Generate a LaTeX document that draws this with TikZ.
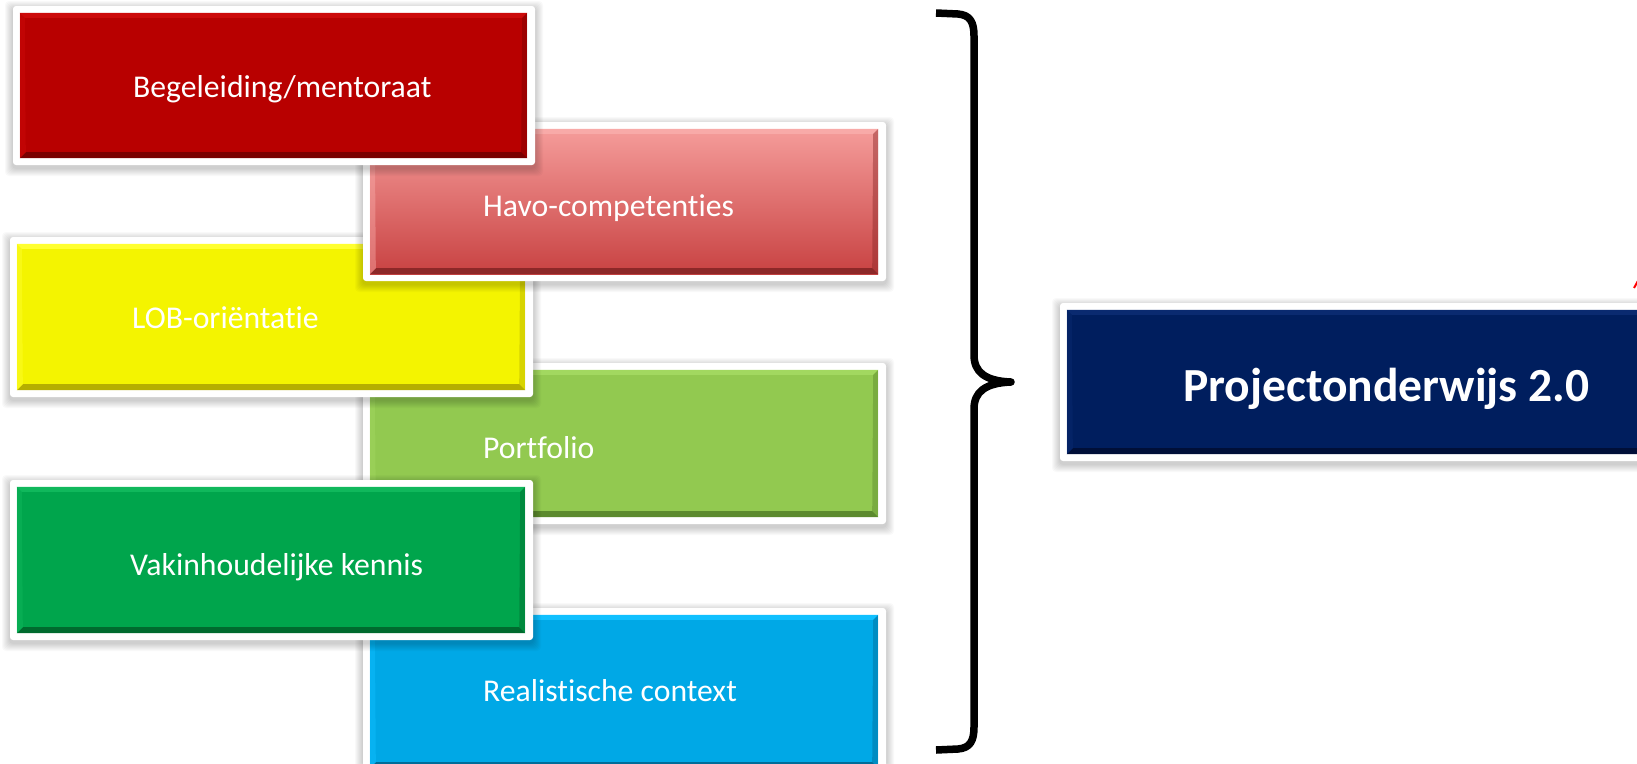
\documentclass[tikz,border=0pt]{standalone}
\usepackage{fontspec}
\setmainfont{Carlito}[Ligatures={NoCommon}]
\usetikzlibrary{fit}
\definecolor{redA}{HTML}{B80000}
\definecolor{redD}{HTML}{7A0000}
\definecolor{redL}{HTML}{CC0A0A}
\definecolor{pinkT}{HTML}{F59C9A}
\definecolor{pinkB}{HTML}{C84242}
\definecolor{pinkD}{HTML}{8C2828}
\definecolor{pinkL}{HTML}{F8AAA8}
\definecolor{yelA}{HTML}{F4F400}
\definecolor{yelD}{HTML}{B5AE00}
\definecolor{yelL}{HTML}{FFFF30}
\definecolor{lgrA}{HTML}{92C950}
\definecolor{lgrD}{HTML}{5C8A2E}
\definecolor{lgrL}{HTML}{A2D860}
\definecolor{dgrA}{HTML}{00A54C}
\definecolor{dgrD}{HTML}{006A2E}
\definecolor{dgrL}{HTML}{10B85C}
\definecolor{bluA}{HTML}{00A8E6}
\definecolor{bluD}{HTML}{006C98}
\definecolor{bluL}{HTML}{10C0FF}
\definecolor{navA}{HTML}{001E5E}
\definecolor{navD}{HTML}{000F38}
\definecolor{navL}{HTML}{0A2A70}
\newcommand{\mkbox}[8]{%
  \foreach \s in {1,...,8} {\fill[black, opacity=0.022, rounded corners=4pt] ({#2-\s},{#3-\s+3}) rectangle ({#4+\s},{#5+\s+3});}
  \node[frame, fit={(#2,#3) (#4,#5)}] (#1-frame) {};
  \node[core, #6, fit={({#2+7},{#3+7}) ({#4-8},{#5-7})}] (#1) {};
  \fill[#8] (#1.north west) -- (#1.north east) -- ([shift={(-5,5)}]#1.north east) -- ([shift={(5,5)}]#1.north west) -- cycle;
  \fill[#7] (#1.south west) -- (#1.south east) -- ([shift={(-6,-6)}]#1.south east) -- ([shift={(6,-6)}]#1.south west) -- cycle;
  \fill[#7, opacity=0.45] (#1.north east) -- (#1.south east) -- ([shift={(-6,-6)}]#1.south east) -- ([shift={(-5,5)}]#1.north east) -- cycle;
  \fill[#8, opacity=0.45] (#1.north west) -- ([shift={(5,5)}]#1.north west) -- ([shift={(6,-6)}]#1.south west) -- (#1.south west) -- cycle;
}
\begin{document}
\begin{tikzpicture}[x=1pt, y=-1pt,
  frame/.style={fill=white, draw=none, inner sep=0pt, rounded corners=3pt},
  core/.style={inner sep=0pt, draw=none},
  lbl/.style={text=white, font=\fontsize{31.7}{38}\selectfont, inner sep=0pt, anchor=base west},
  ttl/.style={text=white, font=\fontsize{47.5}{56}\selectfont\bfseries, inner sep=0pt, anchor=base west},
  bracestyle/.style={draw=black, line width=7.5pt, line join=round}]
\useasboundingbox (0,0) rectangle (1637,763);
\fill[white] (0,0) rectangle (1637,763);

% boxes, back to front
\mkbox{blu}{363}{608}{886}{775}{fill=bluA}{bluD}{bluL}
\node[lbl] (blu-t) at (483,701) {Realistische context};

\mkbox{lgr}{363}{363}{886}{524}{fill=lgrA}{lgrD}{lgrL}
\node[lbl] (lgr-t) at (483,458) {Portfolio};

\mkbox{dgr}{10}{480}{533}{640}{fill=dgrA}{dgrD}{dgrL}
\node[lbl] (dgr-t) at (130,575) {Vakinhoudelijke kennis};

\mkbox{yel}{10}{237}{533}{397}{fill=yelA}{yelD}{yelL}
\node[lbl] (yel-t) at (132,328) {LOB-oriëntatie};

\mkbox{pnk}{363}{122}{886}{281}{top color=pinkT, bottom color=pinkB}{pinkD}{pinkL}
\node[lbl] (pnk-t) at (483,216) {Havo-competenties};

\mkbox{red}{13}{6}{535}{165}{fill=redA}{redD}{redL}
\node[lbl] (red-t) at (133,97) {Begeleiding/mentoraat};

\mkbox{nav}{1060}{303}{1660}{461}{fill=navA}{navD}{navL}
\node[ttl] (nav-t) at (1183,401) {Projectonderwijs 2.0};

% brace
\coordinate (brT) at (936,13);
\coordinate (brM) at (1011,382);
\coordinate (brB) at (936,750);
\draw[bracestyle] (brT) -- (958,14) .. controls (970,15) and (974,22) .. (974,36)
  -- (974,355) .. controls (974,372) and (985,381) .. (brM)
  .. controls (985,383) and (974,392) .. (974,409)
  -- (974,727) .. controls (974,741) and (970,748) .. (958,749) -- (brB);

% small red mark at right edge
\coordinate (rmA) at (1634,288);
\coordinate (rmB) at (1639,279);
\draw[red, line width=2pt] (rmA) -- (rmB);
\end{tikzpicture}
\end{document}
